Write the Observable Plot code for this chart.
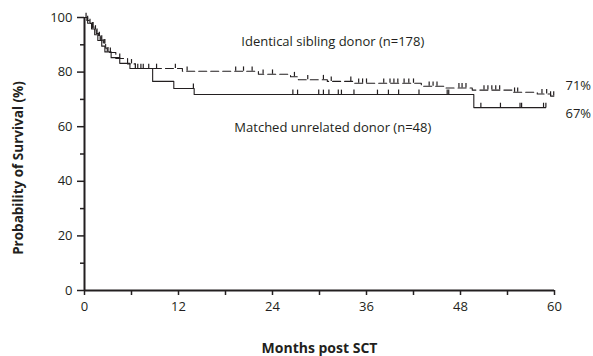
<!DOCTYPE html>
<html>
<head>
<meta charset="utf-8">
<script src="https://cdn.jsdelivr.net/npm/d3@7"></script>
<script src="https://cdn.jsdelivr.net/npm/@observablehq/plot@0.6"></script>
<style>
  html, body { margin: 0; padding: 0; background: #fff; }
  #chart { width: 593px; height: 356px; }
</style>
</head>
<body>
<div id="chart"></div>
<script>
// ---- Data ----
// Identical sibling donor: step times (months) and survival (%); last entry = end of follow-up
const sibTimes = [0, 0.3, 0.6, 0.9, 1.2, 1.5, 1.8, 2.1, 2.4, 2.7, 2.9, 4.0, 5.5, 6.5, 12.5, 22.2, 26.3, 27.3, 31, 34.5, 43, 46, 49.5, 54.7, 57.8, 59.5, 60];
const sibSurv  = [100, 98.9, 97.8, 96.6, 95.4, 94.2, 93, 91.7, 90.3, 88.8, 87.2, 85, 83, 81.3, 80.3, 79.2, 78.3, 77.2, 76.6, 75.9, 74.8, 74.2, 73.4, 72.6, 72, 71.2, 71.2];
const sibCensor = [0.4, 0.7, 1.0, 1.1, 1.4, 1.6, 1.9, 2.2, 2.5, 2.6, 3.3, 4.5, 6.0, 6.8, 7.2, 7.5, 8.2, 9.2, 11.6, 13.1, 19.3, 20.3, 21.4, 22.8, 24, 26.8, 28.5, 30.5, 31.5, 34, 35, 35.5, 36, 38.2, 39, 39.5, 40, 40.8, 41.4, 42, 44, 44.5, 45, 47.8, 48.2, 48.7, 51, 51.5, 52, 52.5, 53, 54.9, 55.3, 58.4, 59, 59.5, 59.9];

// Matched unrelated donor
const mudTimes = [0, 0.4, 0.9, 1.3, 1.7, 2.2, 2.6, 3.4, 4.5, 5.8, 8.7, 11.4, 14, 49.7, 58.9];
const mudSurv  = [100, 97.9, 95.8, 93.7, 91.6, 89.5, 87.4, 85.3, 83.2, 81.3, 76.6, 74, 71.8, 67, 67];
const mudCensor = [0.2, 1.0, 2.0, 3.0, 6.5, 13.9, 26.6, 27.2, 29.9, 30.5, 31.2, 32.4, 32.8, 34.4, 37.4, 38.8, 40.1, 42.7, 46.3, 46.5, 50.6, 53.1, 55.6, 55.8, 58.6, 58.9];

// Labels
const groupNames = ["Identical sibling donor (n=178)", "Matched unrelated donor (n=48)"];
const groupLabelX = [31.7, 31.7];
const groupLabelY = [91.2, 59.7];
const endLabels = ["71%", "67%"];
const xTicks = [0, 12, 24, 36, 48, 60];
const xMinor = [6, 18, 30, 42, 54];
const yTicks = [0, 20, 40, 60, 80, 100];
const yMinor = [10, 30, 50, 70, 90];
const xTitle = "Months post SCT";
const yTitle = "Probability of Survival (%)";

// ---- Build tables ----
const ink = "#231f20";
const font = "'Open Sans', 'Noto Sans', sans-serif";
const toSeries = (times, surv) => times.map((t, i) => ({t, s: surv[i]}));
const survAt = (times, surv, t) => { let v = surv[0]; for (let i = 0; i < times.length; i++) if (times[i] <= t) v = surv[i]; return v; };
const toCensor = (cens, times, surv) => cens.map(t => ({t, s: survAt(times, surv, t)}));

const sib = toSeries(sibTimes, sibSurv);
const mud = toSeries(mudTimes, mudSurv);
const sibC = toCensor(sibCensor, sibTimes, sibSurv);
const mudC = toCensor(mudCensor, mudTimes, mudSurv);
const groupLabels = groupNames.map((n, i) => ({n, x: groupLabelX[i], y: groupLabelY[i]}));
const sibEnd = [{label: endLabels[0], t: sibTimes[sibTimes.length - 1], s: sibSurv[sibSurv.length - 1]}];
const mudEnd = [{label: endLabels[1], t: sibTimes[sibTimes.length - 1], s: mudSurv[mudSurv.length - 1]}];

const chart = Plot.plot({
  width: 593,
  height: 356,
  marginLeft: 84,
  marginRight: 39,
  marginTop: 17,
  marginBottom: 66,
  style: {fontFamily: font, fontSize: "13px", color: ink, background: "#fff"},
  x: {domain: [0, 60]},
  y: {domain: [0, 100]},
  marks: [
    Plot.axisX({ticks: xTicks, tickSize: 5, tickPadding: 6, label: null, stroke: ink, strokeWidth: 1.5, fill: ink, fontSize: 13}),
    Plot.axisX({ticks: xMinor, tickSize: 5, text: null, label: null, stroke: ink, strokeWidth: 1.5}),
    Plot.axisY({ticks: yTicks, tickSize: 7, tickPadding: 5, label: null, stroke: ink, strokeWidth: 1.5, fill: ink, fontSize: 13}),
    Plot.axisY({ticks: yMinor, tickSize: 4, text: null, label: null, stroke: ink, strokeWidth: 1.5}),
    Plot.ruleX([0], {stroke: ink, strokeWidth: 2}),
    Plot.ruleY([0], {stroke: ink, strokeWidth: 2}),
    Plot.line(mud, {x: "t", y: "s", curve: "step-after", stroke: ink, strokeWidth: 1.1}),
    Plot.line(sib, {x: "t", y: "s", curve: "step-after", stroke: ink, strokeWidth: 1.1, strokeDasharray: "8,4"}),
    Plot.ruleX(mudC, {x: "t", y1: "s", y2: d => d.s + 1.6, stroke: ink, strokeWidth: 1.2}),
    Plot.ruleX(sibC, {x: "t", y1: "s", y2: d => d.s + 1.6, stroke: ink, strokeWidth: 1.2}),
    Plot.text(groupLabels, {x: "x", y: "y", text: "n", fill: ink, fontSize: 13}),
    Plot.text(sibEnd, {x: "t", y: "s", text: "label", dy: -10, dx: 11, textAnchor: "start", fill: ink, fontSize: 13}),
    Plot.text(mudEnd, {x: "t", y: "s", text: "label", dy: 6, dx: 11, textAnchor: "start", fill: ink, fontSize: 13}),
    Plot.text([yTitle], {frameAnchor: "left", textAnchor: "middle", rotate: -90, dx: -66, dy: 14, text: d => d, fill: ink, fontWeight: "bold", fontSize: 13.5}),
    Plot.text([xTitle], {frameAnchor: "bottom", dy: 62, text: d => d, fill: ink, fontWeight: "bold", fontSize: 14})
  ]
});
document.getElementById("chart").appendChild(chart);
</script>
</body>
</html>
